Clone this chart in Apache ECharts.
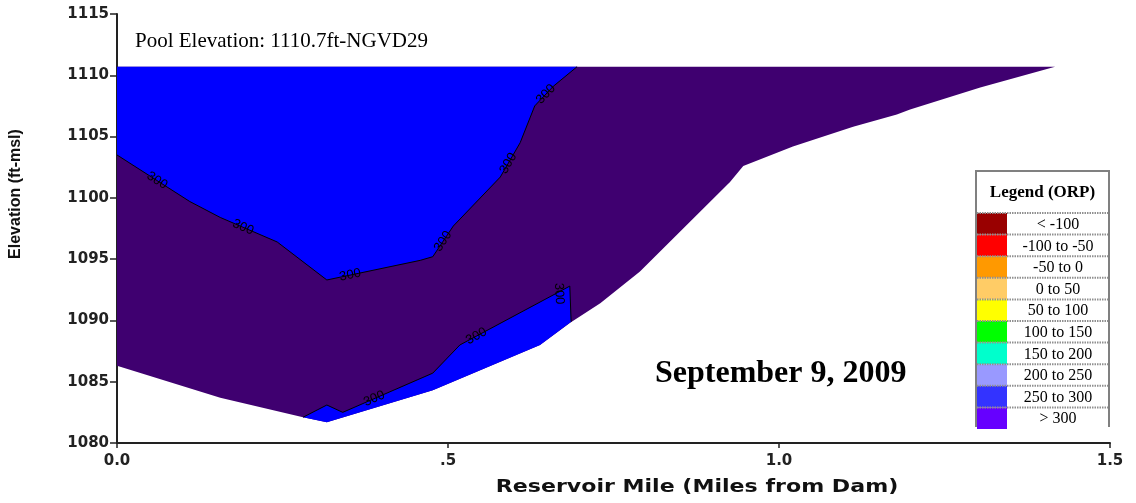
<!DOCTYPE html>
<html>
<head>
<meta charset="utf-8">
<script src="https://cdn.jsdelivr.net/npm/echarts/dist/echarts.min.js"></script>
<style>
  html, body { margin: 0; padding: 0; background: #fff; }
  #chart { width: 1136px; height: 503px; }
</style>
</head>
<body>
<div id="chart"></div>
<script>
// reservoir cross-section, [mile from dam, elevation ft]
var sectionOutline = [
    [0, 1110.7], [1.417, 1110.7], [1.304, 1109.0], [1.198, 1107.2], [1.178, 1106.8],
    [1.112, 1105.8], [1.021, 1104.2], [0.946, 1102.6], [0.926, 1101.3], [0.790, 1094.0],
    [0.730, 1091.4], [0.684, 1089.8], [0.639, 1088.0], [0.477, 1084.3], [0.317, 1081.7],
    [0.281, 1082.1], [0.156, 1083.7], [0, 1086.3]
];

// 300 mV isolines
var contourUpper = [
    [0.695, 1110.7], [0.659, 1109.1], [0.631, 1107.5], [0.609, 1104.5], [0.579, 1101.7],
    [0.508, 1097.7], [0.477, 1095.2], [0.458, 1094.9], [0.317, 1093.3], [0.242, 1096.4],
    [0.156, 1098.4], [0.110, 1099.7], [0, 1103.5]
];
var contourLower = [
    [0.281, 1082.1], [0.317, 1083.1], [0.341, 1082.5], [0.477, 1085.7], [0.518, 1088.0],
    [0.684, 1092.8], [0.686, 1089.9]
];
var lowerPocketFloor = [[0.639, 1088.0], [0.477, 1084.3], [0.317, 1081.7]];
var surfaceCorner = [[0, 1110.7]];

// [line, segment, position along segment, nudge px]
var contourLabels = [
    [0, 1, 0.4], [0, 3, 0.6], [0, 5, 0.5], [0, 7, 0.75], [0, 9, 0.6], [0, 11, 0.45],
    [1, 2, 0.35], [1, 4, 0.15], [1, 5, 0.2, 11]
];
var contourText = '300';

var xTickLabels = ['0.0', '.5', '1.0', '1.5'];

var legendLabels = ['< -100', '-100 to -50', '-50 to 0', '0 to 50', '50 to 100',
    '100 to 150', '150 to 200', '200 to 250', '250 to 300', '> 300'];
var legendColors = ['#990000', '#ff0000', '#ff9900', '#ffcc66', '#ffff00',
    '#00ff00', '#00ffcc', '#9999ff', '#3333ff', '#6600ff'];

var regions = [
    sectionOutline,
    surfaceCorner.concat(contourUpper),
    contourLower.concat(lowerPocketFloor)
];
var regionColors = ['#3f0070', '#0000ff', '#0000ff'];
var contourLines = [contourUpper, contourLower];

var chart = echarts.init(document.getElementById('chart'));

function renderRegion(params, api) {
    var pts = regions[params.dataIndex].map(function (p) { return api.coord(p); });
    return {
        type: 'polygon',
        shape: { points: pts },
        style: { fill: regionColors[params.dataIndex], stroke: null }
    };
}

function renderContour(params, api) {
    var idx = params.dataIndex;
    var pts = contourLines[idx].map(function (p) { return api.coord(p); });
    var children = [{
        type: 'polyline',
        shape: { points: pts },
        style: { stroke: '#000', lineWidth: 1, fill: null }
    }];
    contourLabels.forEach(function (lb) {
        if (lb[0] !== idx) return;
        var a = pts[lb[1]], b = pts[lb[1] + 1], t = lb[2];
        if (!a || !b) return;
        var dx = b[0] - a[0], dy = b[1] - a[1];
        var len = Math.sqrt(dx * dx + dy * dy);
        var nudge = lb[3] || 0;
        var x = a[0] + dx * t - dy / len * nudge;
        var y = a[1] + dy * t + dx / len * nudge;
        var rot = -Math.atan2(dy, dx);
        if (rot > Math.PI / 2) rot -= Math.PI;
        else if (rot < -Math.PI / 2) rot += Math.PI;
        children.push({
            type: 'text',
            x: x, y: y, rotation: rot,
            style: {
                text: contourText, fill: '#000',
                fontSize: 13, fontFamily: 'Liberation Sans',
                align: 'center', verticalAlign: 'middle'
            }
        });
    });
    return { type: 'group', children: children };
}

// legend table (ORP classes)
var legX = 976, legTop = 171, legW = 133, legBottom = 427;
var rowTop = 213, rowH = 21.6;
var legendGraphics = [
    { type: 'rect', shape: { x: legX, y: legTop, width: legW, height: legBottom - legTop },
      style: { fill: '#fff' } },
    { type: 'polyline', shape: { points: [[legX, legBottom], [legX, legTop], [legX + legW, legTop], [legX + legW, legBottom]] },
      style: { stroke: '#808080', lineWidth: 2, fill: null } },
    { type: 'text', x: legX + legW / 2, y: 193,
      style: { text: 'Legend (ORP)', fontSize: 17, fontWeight: 'bold', fontFamily: 'Liberation Serif',
               fill: '#000', align: 'center', verticalAlign: 'middle' } }
];
legendLabels.forEach(function (lab, i) {
    var y0 = rowTop + i * rowH;
    legendGraphics.push({ type: 'rect', shape: { x: legX + 1, y: y0, width: 30, height: rowH },
        style: { fill: legendColors[i] } });
    legendGraphics.push({ type: 'line', shape: { x1: legX + 1, y1: y0, x2: legX + legW - 1, y2: y0 },
        style: { stroke: '#909090', lineWidth: 2, lineDash: [1.5, 1] } });
    legendGraphics.push({ type: 'text', x: 1058, y: y0 + rowH / 2 + 1,
        style: { text: lab, fontSize: 16, fontFamily: 'Liberation Serif', fill: '#000',
                 align: 'center', verticalAlign: 'middle' } });
});

var axisFont = { fontFamily: 'DejaVu Sans', fontWeight: 'bold', fontSize: 15, color: '#222' };

var option = {
    animation: false,
    backgroundColor: '#fff',
    title: [
        {
            text: 'Pool Elevation: 1110.7ft-NGVD29',
            left: 135, top: 31, padding: 0,
            textStyle: { fontFamily: 'Liberation Serif', fontSize: 21, fontWeight: 'normal', color: '#000' }
        },
        {
            text: 'September 9, 2009',
            left: 655, top: 358, padding: 0,
            textStyle: { fontFamily: 'Liberation Serif', fontSize: 32, fontWeight: 'bold', color: '#000' }
        }
    ],
    grid: { left: 117, right: 26, top: 14, bottom: 60, containLabel: false },
    xAxis: {
        type: 'value', min: 0, max: 1.5, interval: 0.5,
        axisLine: { lineStyle: { color: '#222', width: 2 } },
        axisTick: { length: 5, lineStyle: { color: '#222', width: 1.5 } },
        splitLine: { show: false },
        axisLabel: Object.assign({ margin: 11, formatter: function (v) {
            return xTickLabels[Math.round(v / 0.5)];
        } }, axisFont)
    },
    yAxis: {
        type: 'value', min: 1080, max: 1115, interval: 5,
        axisLine: { show: true, lineStyle: { color: '#222', width: 2 } },
        axisTick: { show: true, length: 7, lineStyle: { color: '#222', width: 1.5 } },
        splitLine: { show: false },
        axisLabel: Object.assign({ margin: 8, formatter: function (v) { return String(v); } }, axisFont)
    },
    graphic: [
        { type: 'text', x: 697, y: 488, scaleX: 1.3,
          style: { text: 'Reservoir Mile (Miles from Dam)', fontFamily: 'DejaVu Sans', fontWeight: 'bold',
                   fontSize: 17, fill: '#111', align: 'center', verticalAlign: 'middle' } },
        { type: 'text', x: 16, y: 194, rotation: Math.PI / 2,
          style: { text: 'Elevation (ft-msl)', fontFamily: 'Liberation Sans', fontWeight: 'bold',
                   fontSize: 16, fill: '#111', align: 'center', verticalAlign: 'middle' } }
    ].concat(legendGraphics),
    series: [
        {
            type: 'custom',
            renderItem: renderRegion,
            data: regions.map(function (r) { return r[0]; }),
            z: 1
        },
        {
            type: 'custom',
            renderItem: renderContour,
            data: contourLines.map(function (l) { return l[0]; }),
            z: 2
        }
    ]
};
chart.setOption(option);
</script>
</body>
</html>
